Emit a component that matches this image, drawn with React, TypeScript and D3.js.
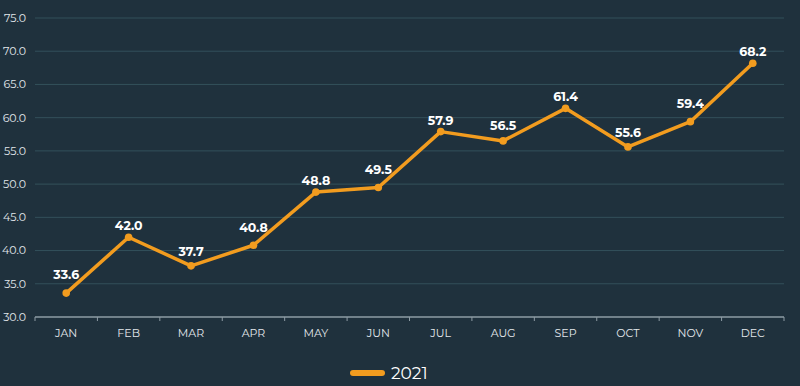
import React, { useEffect, useRef } from 'react';
import * as d3 from 'd3';

const months = ['JAN', 'FEB', 'MAR', 'APR', 'MAY', 'JUN', 'JUL', 'AUG', 'SEP', 'OCT', 'NOV', 'DEC'];
const values2021 = [33.6, 42.0, 37.7, 40.8, 48.8, 49.5, 57.9, 56.5, 61.4, 55.6, 59.4, 68.2];
const yTicks = [30, 35, 40, 45, 50, 55, 60, 65, 70, 75];
const seriesName = '2021';

const W = 800;
const H = 386;
const FONT = 'Montserrat, Lato, "Open Sans", sans-serif';

export default function App() {
  const svgRef = useRef<SVGSVGElement>(null);

  useEffect(() => {
    const svg = d3.select(svgRef.current);
    svg.selectAll('*').remove();

    const left = 35, right = 784, top = 18, bottom = 317;
    const x = d3.scaleBand().domain(months).range([left, right]);
    const y = d3.scaleLinear().domain([30, 75]).range([bottom, top]);

    svg.append('rect').attr('width', W).attr('height', H).attr('fill', '#1f313d');

    // grid + y labels
    const grid = svg.append('g');
    yTicks.forEach(t => {
      if (t !== 30) {
        grid.append('line')
          .attr('x1', left).attr('x2', right)
          .attr('y1', y(t)).attr('y2', y(t))
          .attr('stroke', '#33505b').attr('stroke-width', 1);
      }
      grid.append('text')
        .attr('x', 26).attr('y', y(t)).attr('dy', '0.35em')
        .attr('text-anchor', 'end')
        .attr('fill', '#e3e8ec').attr('font-size', 11).attr('font-family', FONT)
        .text(t.toFixed(1));
    });

    // x axis
    const ax = svg.append('g');
    ax.append('line').attr('x1', left).attr('x2', right).attr('y1', bottom).attr('y2', bottom)
      .attr('stroke', '#8e9ca5').attr('stroke-width', 1.5);
    const bounds = months.map(m => x(m)!).concat([right]);
    bounds.forEach(b => {
      ax.append('line').attr('x1', b).attr('x2', b).attr('y1', bottom).attr('y2', bottom + 4)
        .attr('stroke', '#8e9ca5').attr('stroke-width', 1);
    });
    months.forEach(m => {
      ax.append('text')
        .attr('x', x(m)! + x.bandwidth() / 2).attr('y', bottom + 16)
        .attr('dy', '0.35em').attr('text-anchor', 'middle')
        .attr('fill', '#e3e8ec').attr('font-size', 11).attr('font-family', FONT)
        .text(m);
    });

    const cx = (i: number) => x(months[i])! + x.bandwidth() / 2;
    const line = d3.line<number>().x((d, i) => cx(i)).y(d => y(d));

    svg.append('path').datum(values2021)
      .attr('fill', 'none').attr('stroke', '#f29c1f').attr('stroke-width', 3.5)
      .attr('stroke-linejoin', 'round').attr('d', line);

    svg.append('g').selectAll('circle').data(values2021).join('circle')
      .attr('cx', (d, i) => cx(i)).attr('cy', d => y(d)).attr('r', 3.8)
      .attr('fill', '#f29c1f');

    // labels lift higher when the outgoing segment climbs steeply, to clear the line
    const gap = (i: number) => {
      const next = values2021[i + 1];
      const rise = next === undefined ? 0 : Math.max(0, next - values2021[i]);
      return 7 + Math.min(7, rise * 0.8);
    };
    svg.append('g').selectAll('text').data(values2021).join('text')
      .attr('x', (d, i) => cx(i)).attr('y', (d, i) => y(d) - gap(i))
      .attr('text-anchor', 'middle')
      .attr('fill', '#ffffff').attr('font-size', 12.5).attr('font-weight', 'bold').attr('font-family', FONT)
      .text(d => d.toFixed(1));

    // legend
    svg.append('line').attr('x1', 353).attr('x2', 382).attr('y1', 373).attr('y2', 373)
      .attr('stroke', '#f29c1f').attr('stroke-width', 6).attr('stroke-linecap', 'round');
    svg.append('text').attr('x', 391).attr('y', 373).attr('dy', '0.35em')
      .attr('fill', '#ffffff').attr('font-size', 17).attr('font-family', FONT)
      .text(seriesName);
  }, []);

  return (
    <svg ref={svgRef} width={W} height={H}
      style={{ position: 'absolute', left: 0, top: 0, display: 'block' }} />
  );
}
